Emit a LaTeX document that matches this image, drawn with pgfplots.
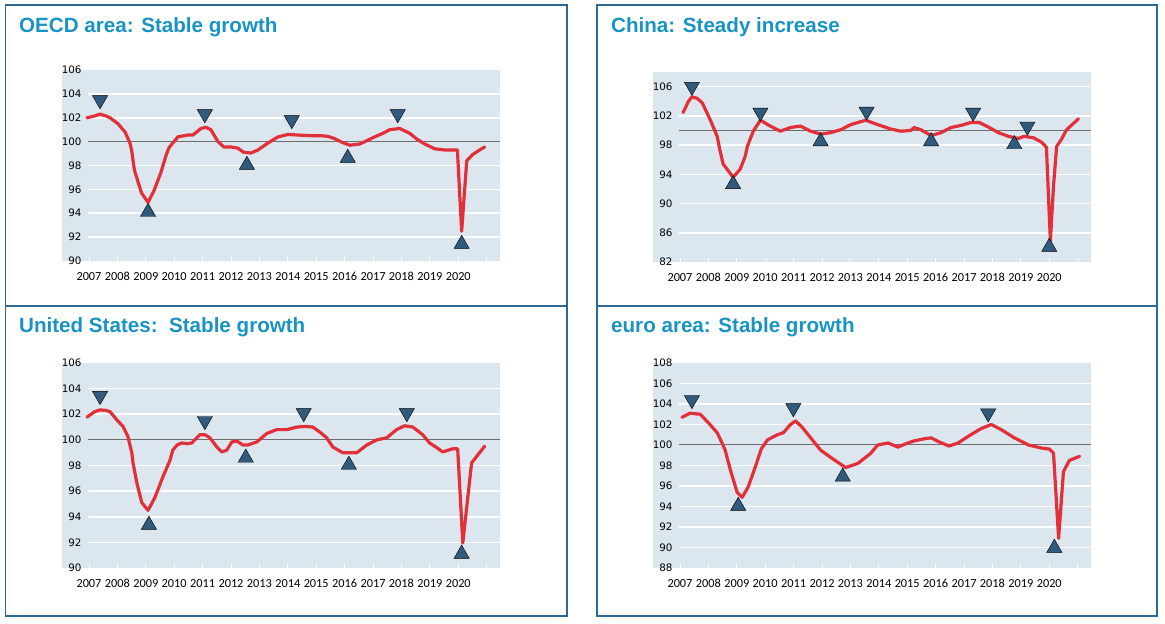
\documentclass[border=0pt]{standalone}
\usepackage{fontspec}
\setmainfont{Liberation Sans}
\newfontfamily\calib{Carlito}
\newfontfamily\dejav{DejaVu Sans}
\usepackage{pgfplots}
\pgfplotsset{compat=1.18}
\definecolor{bgc}{RGB}{220,230,238}
\definecolor{titc}{RGB}{24,148,196}
\definecolor{boxc}{RGB}{45,105,150}
\definecolor{redl}{RGB}{226,48,58}
\definecolor{tric}{RGB}{50,90,125}
\definecolor{refl}{RGB}{110,110,110}
\pgfplotsset{panel/.style={
  scale only axis, width=438pt,
  xmin=2006.05, xmax=2021.47,
  axis background/.style={fill=bgc},
  axis line style={draw=none},
  xtick={2007,2008,2009,2010,2011,2012,2013,2014,2015,2016,2017,2018,2019,2020,2021},
  xticklabels={2007,2008,2009,2010,2011,2012,2013,2014,2015,2016,2017,2018,2019,2020,{}},
  xtick pos=left, ytick pos=left,
  tick align=inside,
  major tick length=4pt,
  xtick style={white, line width=0.8pt},
  ytick style={draw=none},
  xticklabel style={font=\calib\fontsize{12.3}{12}\selectfont, yshift=-8pt},
  yticklabel style={font=\dejav\fontsize{10.3}{10}\selectfont, anchor=east, xshift=23pt},
  /pgf/number format/assume math mode=true,
  clip=false,
},
redline/.style={redl, line width=3.2pt, line join=round, line cap=round},
upm/.style={only marks, mark=triangle*, mark size=8.8pt, mark options={fill=tric, draw=none}},
downm/.style={only marks, mark=triangle*, mark size=8.8pt, mark options={fill=tric, draw=none, rotate=180}},
}
\newcommand{\grid}[1]{\pgfplotsinvokeforeach{#1}{\draw[white, line width=1.6pt] (axis cs:2006.97,##1) -- (axis cs:2021.47,##1);}
  \draw[refl, line width=1pt] (axis cs:2006.97,100) -- (axis cs:2021.47,100);}
\begin{document}
\begin{tikzpicture}[x=1pt,y=1pt]
\useasboundingbox (0,0) rectangle (1165,624);
% panel boxes
\draw[boxc, line width=1.1pt] (5.5,318) rectangle (567,619);
\draw[boxc, line width=1.1pt] (5.5,8) rectangle (567,318);
\draw[boxc, line width=1.1pt] (597,318) rectangle (1157,619);
\draw[boxc, line width=1.1pt] (597,8) rectangle (1157,318);
% titles
\node[anchor=base west, inner sep=0, text=titc, font=\bfseries\fontsize{20.6}{24}\selectfont] at (19,591) {OECD area: Stable growth};
\node[anchor=base west, inner sep=0, text=titc, font=\bfseries\fontsize{20.6}{24}\selectfont] at (611,591) {China: Steady increase};
\node[anchor=base west, inner sep=0, text=titc, font=\bfseries\fontsize{20.6}{24}\selectfont] at (19,291) {United States:\ \ Stable growth};
\node[anchor=base west, inner sep=0, text=titc, font=\bfseries\fontsize{20.6}{24}\selectfont] at (611,291) {euro area: Stable growth};

% OECD
\begin{axis}[panel, at={(62pt,363pt)}, anchor=south west, height=191pt,
  ymin=90, ymax=106, ytick={90,92,...,106}]
\grid{92,94,96,98,102,104}
\addplot[redline] coordinates {(2006.93,102.0)(2007.2,102.15)(2007.39,102.3)(2007.6,102.15)(2007.74,102.0)(2008.02,101.5)(2008.27,100.8)(2008.44,99.9)(2008.5,99.3)(2008.6,97.6)(2008.85,95.7)(2009.08,94.9)(2009.29,95.9)(2009.53,97.4)(2009.72,98.9)(2009.82,99.5)(2010.13,100.4)(2010.48,100.55)(2010.66,100.55)(2010.94,101.1)(2011.11,101.2)(2011.29,101.0)(2011.54,100.0)(2011.75,99.55)(2012.0,99.55)(2012.24,99.45)(2012.45,99.1)(2012.7,99.05)(2012.95,99.3)(2013.31,99.9)(2013.66,100.4)(2014.01,100.6)(2014.37,100.55)(2014.8,100.5)(2015.13,100.5)(2015.4,100.45)(2015.65,100.25)(2015.9,99.95)(2016.18,99.7)(2016.53,99.8)(2016.8,100.1)(2017.06,100.4)(2017.35,100.7)(2017.59,101.0)(2017.94,101.1)(2018.29,100.7)(2018.55,100.2)(2018.82,99.8)(2019.17,99.4)(2019.52,99.3)(2019.97,99.3)(2020.12,92.5)(2020.3,98.4)(2020.5,98.9)(2020.75,99.3)(2020.93,99.55)};
\addplot[downm] coordinates {(2007.39,103.48)(2011.08,102.31)(2014.14,101.81)(2017.87,102.31)};
\addplot[upm] coordinates {(2009.08,94.1)(2012.56,98.04)(2016.11,98.63)(2020.12,91.42)};
\end{axis}

% China
\begin{axis}[panel, at={(653pt,362pt)}, anchor=south west, height=190pt,
  ymin=82, ymax=108, ytick={82,86,...,106}]
\grid{86,90,94,98,102,106}
\addplot[redline] coordinates {(2007.11,102.46)(2007.3,104.0)(2007.42,104.6)(2007.6,104.4)(2007.78,103.8)(2008.06,101.5)(2008.31,99.2)(2008.4,97.4)(2008.52,95.4)(2008.87,93.6)(2009.12,94.7)(2009.3,96.5)(2009.37,97.8)(2009.58,99.9)(2009.83,101.4)(2010.18,100.6)(2010.53,99.9)(2010.89,100.4)(2011.24,100.6)(2011.6,99.9)(2011.95,99.5)(2012.3,99.7)(2012.66,100.1)(2013.01,100.8)(2013.54,101.4)(2013.96,100.8)(2014.42,100.2)(2014.78,99.9)(2015.13,100.0)(2015.24,100.4)(2015.48,100.1)(2015.84,99.3)(2016.19,99.7)(2016.54,100.4)(2016.9,100.7)(2017.25,101.1)(2017.53,101.1)(2017.89,100.4)(2018.21,99.7)(2018.56,99.2)(2018.91,98.9)(2019.12,99.2)(2019.44,99.0)(2019.73,98.4)(2019.9,97.7)(2020.04,84.9)(2020.15,92.4)(2020.26,97.8)(2020.43,98.8)(2020.61,100.1)(2021.03,101.6)};
\addplot[downm] coordinates {(2007.42,106.0)(2009.83,102.46)(2013.57,102.6)(2017.32,102.46)(2019.23,100.55)};
\addplot[upm] coordinates {(2008.87,92.64)(2011.95,98.5)(2015.84,98.5)(2018.77,98.1)(2020.0,84.05)};
\end{axis}

% United States
\begin{axis}[panel, at={(62pt,56pt)}, anchor=south west, height=205pt,
  ymin=90, ymax=106, ytick={90,92,...,106}]
\grid{92,94,96,98,102,104}
\addplot[redline] coordinates {(2006.93,101.77)(2007.2,102.2)(2007.39,102.34)(2007.6,102.3)(2007.74,102.2)(2007.98,101.56)(2008.2,101.04)(2008.37,100.26)(2008.51,98.98)(2008.55,98.2)(2008.69,96.6)(2008.86,95.1)(2009.08,94.5)(2009.32,95.5)(2009.6,97.1)(2009.85,98.4)(2009.95,99.2)(2010.1,99.6)(2010.27,99.76)(2010.45,99.7)(2010.62,99.76)(2010.9,100.4)(2011.08,100.4)(2011.26,100.16)(2011.5,99.45)(2011.68,99.06)(2011.85,99.2)(2012.03,99.84)(2012.21,99.9)(2012.42,99.6)(2012.59,99.6)(2012.91,99.84)(2013.26,100.5)(2013.61,100.8)(2013.96,100.8)(2014.32,101.0)(2014.6,101.05)(2014.88,101.0)(2015.13,100.6)(2015.37,100.16)(2015.58,99.45)(2015.93,99.0)(2016.43,99.0)(2016.78,99.6)(2017.13,100.0)(2017.48,100.16)(2017.83,100.8)(2018.11,101.1)(2018.4,101.0)(2018.75,100.4)(2018.99,99.76)(2019.24,99.4)(2019.45,99.06)(2019.8,99.3)(2019.98,99.3)(2020.16,91.95)(2020.47,98.2)(2020.68,98.8)(2020.93,99.5)};
\addplot[downm] coordinates {(2007.39,103.44)(2011.08,101.48)(2014.56,102.1)(2018.19,102.1)};
\addplot[upm] coordinates {(2009.11,93.36)(2012.52,98.6)(2016.15,98.05)(2020.12,91.1)};
\end{axis}

% euro area
\begin{axis}[panel, at={(653pt,56pt)}, anchor=south west, height=205pt,
  ymin=88, ymax=108, ytick={88,90,...,108}]
\grid{90,92,94,96,98,102,104,106}
\addplot[redline] coordinates {(2007.07,102.7)(2007.35,103.1)(2007.71,103.0)(2007.99,102.2)(2008.31,101.2)(2008.48,100.2)(2008.59,99.5)(2008.77,97.6)(2009.01,95.4)(2009.19,94.9)(2009.4,95.9)(2009.65,97.85)(2009.86,99.6)(2010.08,100.5)(2010.43,101.0)(2010.64,101.2)(2010.89,102.0)(2011.07,102.35)(2011.31,101.7)(2011.6,100.7)(2011.95,99.5)(2012.3,98.8)(2012.83,97.8)(2013.26,98.2)(2013.72,99.2)(2013.96,100.0)(2014.32,100.2)(2014.67,99.8)(2015.02,100.2)(2015.24,100.4)(2015.59,100.6)(2015.84,100.7)(2016.12,100.3)(2016.47,99.9)(2016.79,100.2)(2017.18,100.9)(2017.6,101.6)(2017.96,102.0)(2018.31,101.5)(2018.77,100.7)(2019.27,100.0)(2019.73,99.7)(2020.01,99.6)(2020.15,99.2)(2020.33,90.9)(2020.5,97.4)(2020.71,98.5)(2021.07,98.9)};
\addplot[downm] coordinates {(2007.42,104.4)(2010.99,103.6)(2017.85,103.1)};
\addplot[upm] coordinates {(2009.05,94.05)(2012.73,96.9)(2020.18,89.95)};
\end{axis}
\end{tikzpicture}
\end{document}
